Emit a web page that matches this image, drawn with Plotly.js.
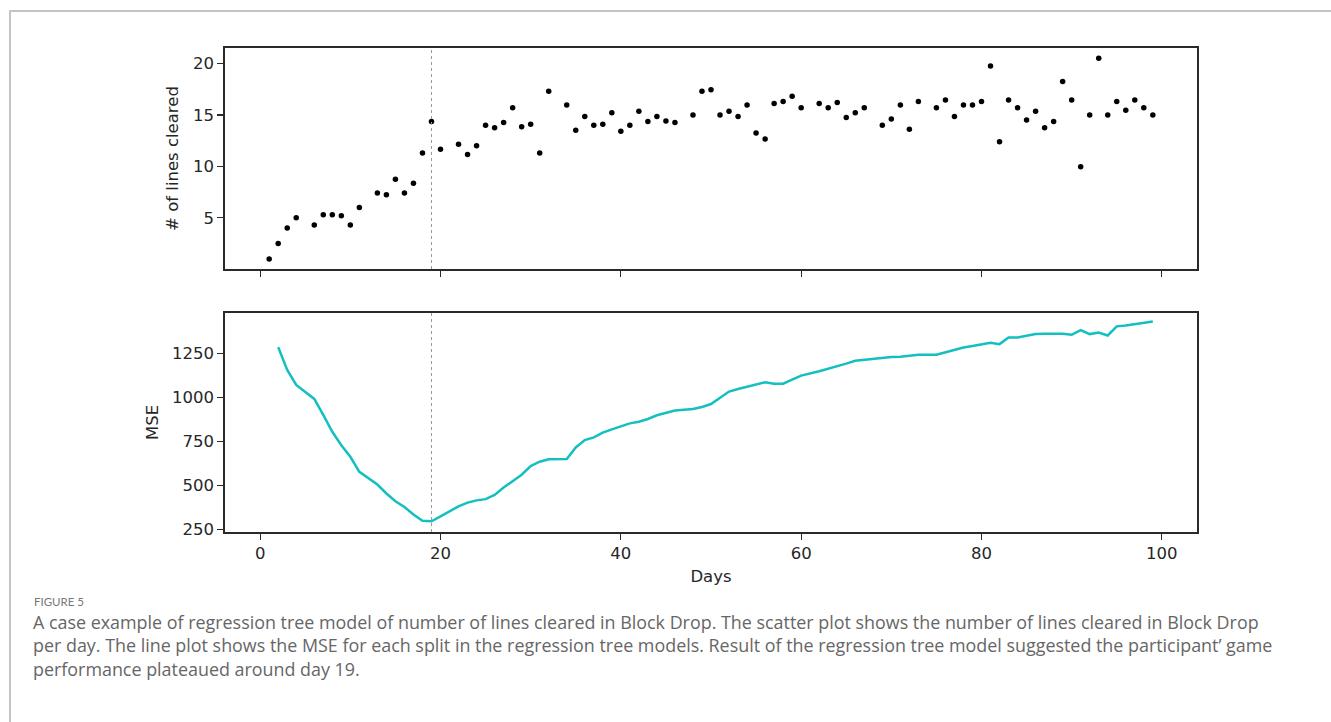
<!DOCTYPE html>
<html>
<head>
<meta charset="utf-8">
<script src="https://cdn.plot.ly/plotly-3.0.1.min.js"></script>
<style>
  html, body { margin: 0; padding: 0; background: #fff; }
  #frame { position: absolute; left: 9px; top: 10px; width: 1322px; height: 712px;
           border-top: 2px solid #c4c4c4; border-left: 2px solid #c4c4c4; }
  #chart { position: absolute; left: 0; top: 0; width: 1331px; height: 722px; }
</style>
</head>
<body>
<div id="frame"></div>
<div id="chart"></div>
<script>
// ---- Data ----
const days = [1,2,3,4,6,7,8,9,10,11,13,14,15,16,17,18,19,20,22,23,24,25,26,27,28,29,30,31,32,34,35,36,37,38,39,40,41,42,43,44,45,46,48,49,50,51,52,53,54,55,56,57,58,59,60,62,63,64,65,66,67,69,70,71,72,73,75,76,77,78,79,80,81,82,83,84,85,86,87,88,89,90,91,92,93,94,95,96,97,98,99];
const linesCleared = [1.0,2.5,4.0,5.0,4.3,5.3,5.3,5.2,4.3,6.0,7.4,7.25,8.75,7.4,8.35,11.3,14.35,11.65,12.15,11.15,12.0,14.0,13.75,14.25,15.7,13.85,14.1,11.3,17.3,15.95,13.5,14.85,14.0,14.1,15.2,13.4,14.0,15.35,14.35,14.85,14.4,14.25,15.0,17.3,17.45,15.0,15.35,14.85,15.95,13.25,12.65,16.1,16.3,16.8,15.7,16.1,15.7,16.2,14.75,15.2,15.7,14.0,14.6,15.95,13.6,16.3,15.7,16.45,14.85,15.95,15.95,16.3,19.75,12.4,16.45,15.7,14.5,15.35,13.75,14.35,18.25,16.45,9.95,15.0,20.5,15.0,16.3,15.45,16.45,15.7,15.0];

const splitDays = [2,3,4,6,7,8,9,10,11,13,14,15,16,17,18,19,20,22,23,24,25,26,27,28,29,30,31,32,34,35,36,37,38,39,40,41,42,43,44,45,46,48,49,50,51,52,53,54,55,56,57,58,59,60,62,63,64,65,66,67,69,70,71,72,73,75,76,77,78,79,80,81,82,83,84,85,86,87,88,89,90,91,92,93,94,95,96,97,98,99];
const mse = [1287,1157,1072,992,901,805,729,663,577,505,454,410,377,335,299,296,324,381,402,415,422,446,488,524,561,610,635,649,650,716,758,773,800,819,834,853,862,878,899,914,926,935,946,963,999,1034,1049,1062,1074,1087,1079,1079,1102,1125,1150,1163,1180,1193,1209,1215,1224,1230,1232,1237,1243,1243,1258,1272,1285,1293,1302,1312,1304,1342,1342,1353,1361,1363,1365,1363,1357,1384,1361,1370,1353,1405,1410,1418,1424,1433];

const plateauDay = 19;
const xTicks = [0, 20, 40, 60, 80, 100];
const topYTicks = [5, 10, 15, 20];
const bottomYTicks = [250, 500, 750, 1000, 1250];

const captionLabel = 'FIGURE 5';
const captionLines = [
  'A case example of regression tree model of number of lines cleared in Block Drop. The scatter plot shows the number of lines cleared in Block Drop',
  'per day. The line plot shows the MSE for each split in the regression tree models. Result of the regression tree model suggested the participant\u2019 game',
  'performance plateaued around day 19.'
];

// ---- Layout helpers ----
const W = 1331, H = 722;
const px = v => v / W;
const py = v => 1 - v / H;

const tickFont = { family: 'DejaVu Sans', size: 16.5, color: '#262626' };
const titleFont = { family: 'DejaVu Sans', size: 16.5, color: '#262626' };
const axisCommon = {
  showline: true, mirror: true, linecolor: '#2a2a2a', linewidth: 1.6,
  ticks: 'outside', ticklen: 6, tickwidth: 1.3, tickcolor: '#2a2a2a',
  showgrid: false, zeroline: false, tickfont: tickFont, fixedrange: true
};

const traces = [
  { x: days, y: linesCleared, xaxis: 'x', yaxis: 'y', type: 'scatter', mode: 'markers',
    marker: { color: '#000', size: 5.5 }, hoverinfo: 'skip', showlegend: false },
  { x: splitDays, y: mse, xaxis: 'x2', yaxis: 'y2', type: 'scatter', mode: 'lines',
    line: { color: '#14bfc0', width: 2.5 }, hoverinfo: 'skip', showlegend: false }
];

const annotations = [
  { text: captionLabel, xref: 'paper', yref: 'paper', x: px(32), y: py(601), xanchor: 'left', yanchor: 'middle',
    showarrow: false, font: { family: 'Lato', size: 11.5, color: '#777' } }
];
captionLines.forEach((t, i) => {
  annotations.push({ text: t, xref: 'paper', yref: 'paper', x: px(31), y: py(622 + i * 23.3),
    xanchor: 'left', yanchor: 'middle', showarrow: false,
    font: { family: 'Open Sans', size: 17.9, color: '#666' } });
});

const layout = {
  width: W, height: H,
  margin: { l: 0, r: 0, t: 0, b: 0 },
  paper_bgcolor: 'rgba(0,0,0,0)', plot_bgcolor: '#fff',
  showlegend: false,
  xaxis: Object.assign({}, axisCommon, {
    domain: [px(225), px(1197)], range: [-3.9, 103.9], anchor: 'y',
    tickvals: xTicks, showticklabels: false
  }),
  yaxis: Object.assign({}, axisCommon, {
    domain: [py(269), py(48)], range: [0.025, 21.5], anchor: 'x',
    tickvals: topYTicks,
    title: { text: '# of lines cleared', font: titleFont, standoff: 10 }
  }),
  xaxis2: Object.assign({}, axisCommon, {
    domain: [px(225), px(1197)], range: [-3.9, 103.9], anchor: 'y2',
    tickvals: xTicks,
    title: { text: 'Days', font: titleFont, standoff: 8 }
  }),
  yaxis2: Object.assign({}, axisCommon, {
    domain: [py(532), py(313)], range: [235, 1481], anchor: 'x2',
    tickvals: bottomYTicks,
    title: { text: 'MSE', font: titleFont, standoff: 9 }
  }),
  shapes: [
    { type: 'line', xref: 'x', yref: 'y domain', x0: plateauDay, x1: plateauDay, y0: 0, y1: 1,
      line: { color: '#999', width: 1, dash: 'dot' } },
    { type: 'line', xref: 'x2', yref: 'y2 domain', x0: plateauDay, x1: plateauDay, y0: 0, y1: 1,
      line: { color: '#999', width: 1, dash: 'dot' } }
  ],
  annotations: annotations
};

Plotly.newPlot('chart', traces, layout, { staticPlot: true, displayModeBar: false });
</script>
</body>
</html>
